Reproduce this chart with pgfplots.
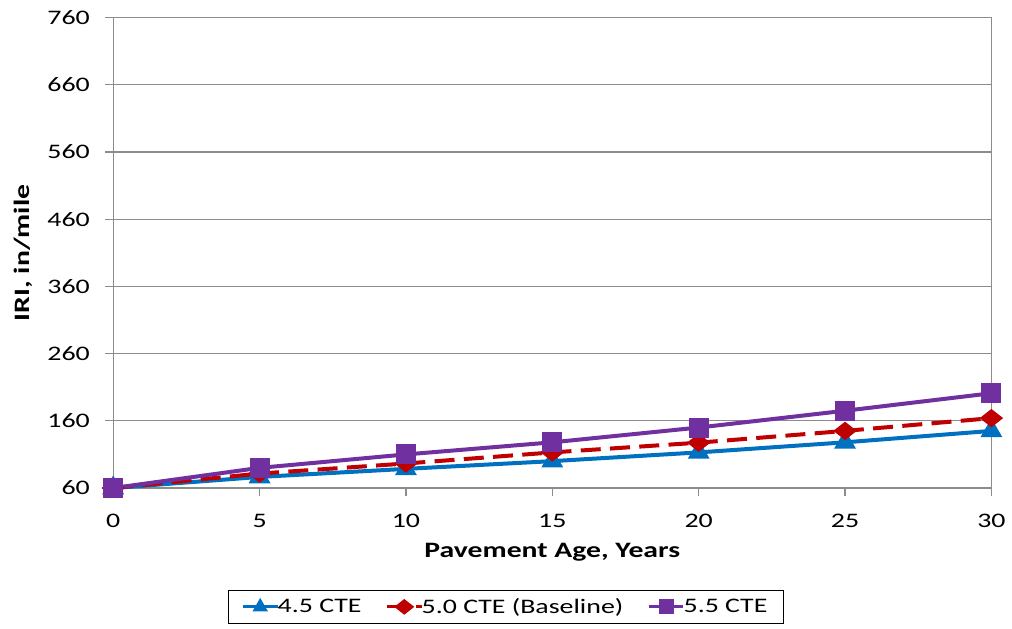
\documentclass[border=0pt]{standalone}
\usepackage{pgfplots}
\pgfplotsset{compat=1.18}
\usepackage{fontspec}
\setmainfont[FakeStretch=1.35]{Carlito}

\definecolor{cteblue}{RGB}{0,112,192}
\definecolor{ctered}{RGB}{192,0,0}
\definecolor{ctepurple}{RGB}{112,48,160}
\definecolor{gridgray}{RGB}{140,140,140}

\pgfplotstableread{
age  a     b      c
0    60    60     60
5    76.5  81.5   90
10   88.5  96.5   110
15   100   113    128
20   113   127.5  150
25   128   145    175
30   145   164    201
}\iridata

\begin{document}
\begin{tikzpicture}[x=0.75pt,y=0.75pt]
\draw[white] (0,0) rectangle (1012,-628);
\begin{axis}[
    at={(113*0.75pt,-488*0.75pt)}, anchor=origin,
    scale only axis,
    width=659pt, height=353pt,
    xmin=0, xmax=30, ymin=60, ymax=760,
    xtick={0,5,...,30},
    ytick={60,160,...,760},
    tick pos=left,
    ymajorgrids,
    grid style={gridgray, line width=0.8pt},
    axis line style={gridgray, line width=1pt},
    tick style={gridgray, line width=1pt},
    tick align=outside,
    major tick length=6pt,
    tick label style={font=\fontsize{15.5}{17}\selectfont},
    /pgf/number format/assume math mode=true,
    xticklabel style={yshift=-10pt},
    yticklabel style={xshift=-8pt},
    xlabel={\textbf{Pavement Age, Years}},
    ylabel={\textbf{IRI, in/mile}},
    label style={font=\fontsize{16.5}{18}\selectfont},
    xlabel style={yshift=-5pt},
    ylabel style={yshift=4pt},
    legend style={
        at={(0.447,-0.2166)}, anchor=north,
        legend columns=3,
        draw=black, line width=0.6pt,
        font=\fontsize{15.5}{17}\selectfont,
        /tikz/every even column/.append style={column sep=16pt},
        /tikz/every odd column/.append style={column sep=-3pt},
        inner ysep=4pt, inner xsep=10pt,
    },
    legend image code/.code={
        \draw[#1, mark repeat=2, mark phase=2] plot coordinates {(0pt,0pt) (13pt,0pt) (26pt,0pt)};
    },
    legend image post style={line width=2.2pt, mark size=4.5pt},
    clip=false,
]
\addplot[cteblue, line width=3pt, mark=triangle*, mark size=6.5pt, mark options={solid}] table[x=age,y=a] {\iridata};
\addlegendentry{4.5 CTE}
\addplot[ctered, line width=3pt, dash pattern=on 15pt off 7pt, mark=diamond*, mark size=5pt, mark options={solid, xscale=1.7}] table[x=age,y=b] {\iridata};
\addlegendentry{5.0 CTE (Baseline)}
\addplot[ctepurple, line width=3pt, mark=square*, mark size=6pt, mark options={solid}] table[x=age,y=c] {\iridata};
\addlegendentry{5.5 CTE}
\end{axis}
\end{tikzpicture}
\end{document}
